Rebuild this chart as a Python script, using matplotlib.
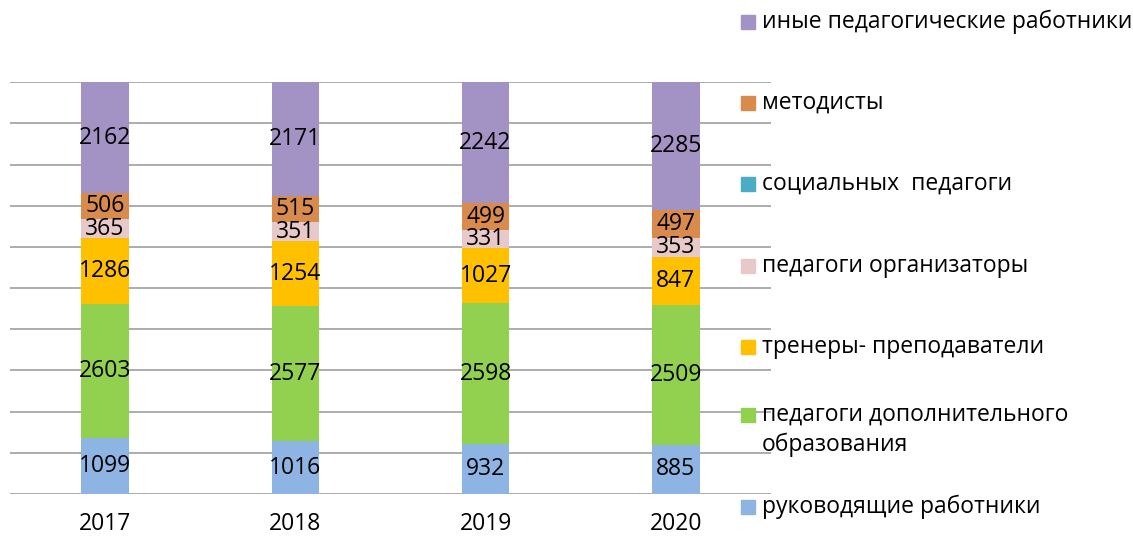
import matplotlib.pyplot as plt
import numpy as np
from matplotlib.patches import Rectangle

plt.rcParams['font.family'] = ['Open Sans', 'DejaVu Sans']

years = ['2017', '2018', '2019', '2020']
series_names = ['руководящие работники',
                'педагоги дополнительного\nобразования',
                'тренеры- преподаватели',
                'педагоги организаторы',
                'социальных  педагоги',
                'методисты',
                'иные педагогические работники']
rukovod = [1099, 1016, 932, 885]
ped_dop = [2603, 2577, 2598, 2509]
trenery = [1286, 1254, 1027, 847]
ped_org = [365, 351, 331, 353]
soc_ped = [0, 0, 0, 0]
metodisty = [506, 515, 499, 497]
inye = [2162, 2171, 2242, 2285]
colors = ['#8DB4E2', '#92D050', '#FFC000', '#E8C9C9', '#4BACC6', '#D98B4E', '#A392C4']

data = np.array([rukovod, ped_dop, trenery, ped_org, soc_ped, metodisty, inye], dtype=float)
totals = data.sum(axis=0)
pct = data / totals * 100

W, H = 1133, 537
fig = plt.figure(figsize=(W / 100, H / 100), dpi=100)
ax = fig.add_axes([0.0088, 0.080, 0.6716, 0.767])

x = np.arange(len(years))
bottom = np.zeros(len(years))
for i in range(len(series_names)):
    ax.bar(x, pct[i], 0.25, bottom=bottom, color=colors[i], edgecolor='none', zorder=3)
    for j in range(len(years)):
        if data[i, j] > 0:
            ax.text(x[j], bottom[j] + pct[i, j] / 2, '%d' % data[i, j],
                    ha='center', va='center', fontsize=16.5, color='black', zorder=4)
    bottom += pct[i]

ax.set_xlim(-0.5, 3.5)
ax.set_ylim(0, 100)
ax.set_yticks(np.arange(0, 101, 10))
ax.yaxis.grid(True, color='#A6A6A6', lw=1.3, zorder=0)
ax.tick_params(axis='y', left=False, labelleft=False)
ax.tick_params(axis='x', length=0, labelsize=16.5, pad=13)
ax.set_xticks(x)
ax.set_xticklabels(years)
for s in ax.spines.values():
    s.set_visible(False)

# legend, drawn by hand (top entry = last series)
legend_y = [507, 430, 347, 266, 184, 103, 22]
for i, name in enumerate(series_names):
    yc = legend_y[i]
    y_top = yc if '\n' not in name else yc - 15
    fig.patches.append(Rectangle(((741) / W, 1 - (y_top + 7) / H), 14 / W, 14 / H,
                                 transform=fig.transFigure, color=colors[i]))
    fig.text(762 / W, 1 - yc / H, name, ha='left', va='center', fontsize=16.5,
             linespacing=1.3, color='black')

plt.savefig('out.png', dpi=100)
